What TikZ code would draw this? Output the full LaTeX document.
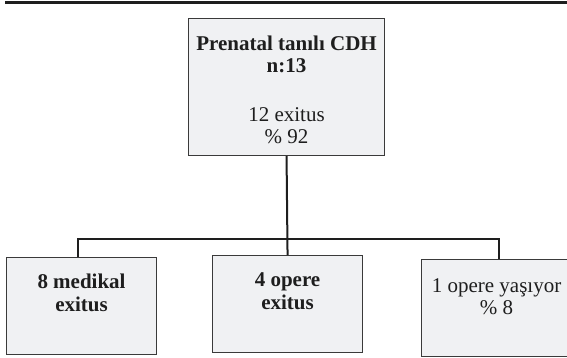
\documentclass[tikz,border=0pt]{standalone}
\usepackage{fontspec}
\setmainfont{Liberation Serif}
\definecolor{boxfill}{HTML}{F0F1F3}
\definecolor{boxline}{HTML}{3A3A3A}
\definecolor{ink}{HTML}{1E1E1E}
\begin{document}
\begin{tikzpicture}[x=1pt,y=-1pt,
  box/.style={draw=boxline, line width=1.1pt, fill=boxfill, inner sep=0pt, anchor=north west, text=ink},
  conn/.style={draw=ink, line width=2pt},
  rulebar/.style={draw=ink, line width=3pt}]
\useasboundingbox (0,0) rectangle (567,357);
\draw[rulebar] (5,2) -- (567,2);
\node[box] (top) at (188,18) {\parbox[c][137pt][t]{196pt}{\centering\fontsize{21}{22}\selectfont\rule{0pt}{32pt}\textbf{Prenatal tanılı CDH}\\\textbf{n:13}\\[27pt]12 exitus\\\% 92}};
\node[box] (left) at (6,257) {\parbox[c][97pt][t]{150pt}{\centering\fontsize{21}{23}\selectfont\rule{0pt}{31pt}\textbf{8 medikal}\\\textbf{exitus}}};
\node[box] (mid) at (212,255) {\parbox[c][97pt][t]{150pt}{\centering\fontsize{21}{23}\selectfont\rule{0pt}{31pt}\textbf{4 opere}\\\textbf{exitus}}};
\node[box] (right) at (421,259) {\parbox[c][97pt][t]{150pt}{\centering\fontsize{21}{22}\selectfont\rule{0pt}{33pt}1 opere yaşıyor\\\% 8}};
\draw[conn] (top.south) -- (mid.north);
\draw[conn] ([xshift=-4pt]left.north) -- ++(0,-18) -| ([xshift=2pt]right.north);
\end{tikzpicture}
\end{document}
